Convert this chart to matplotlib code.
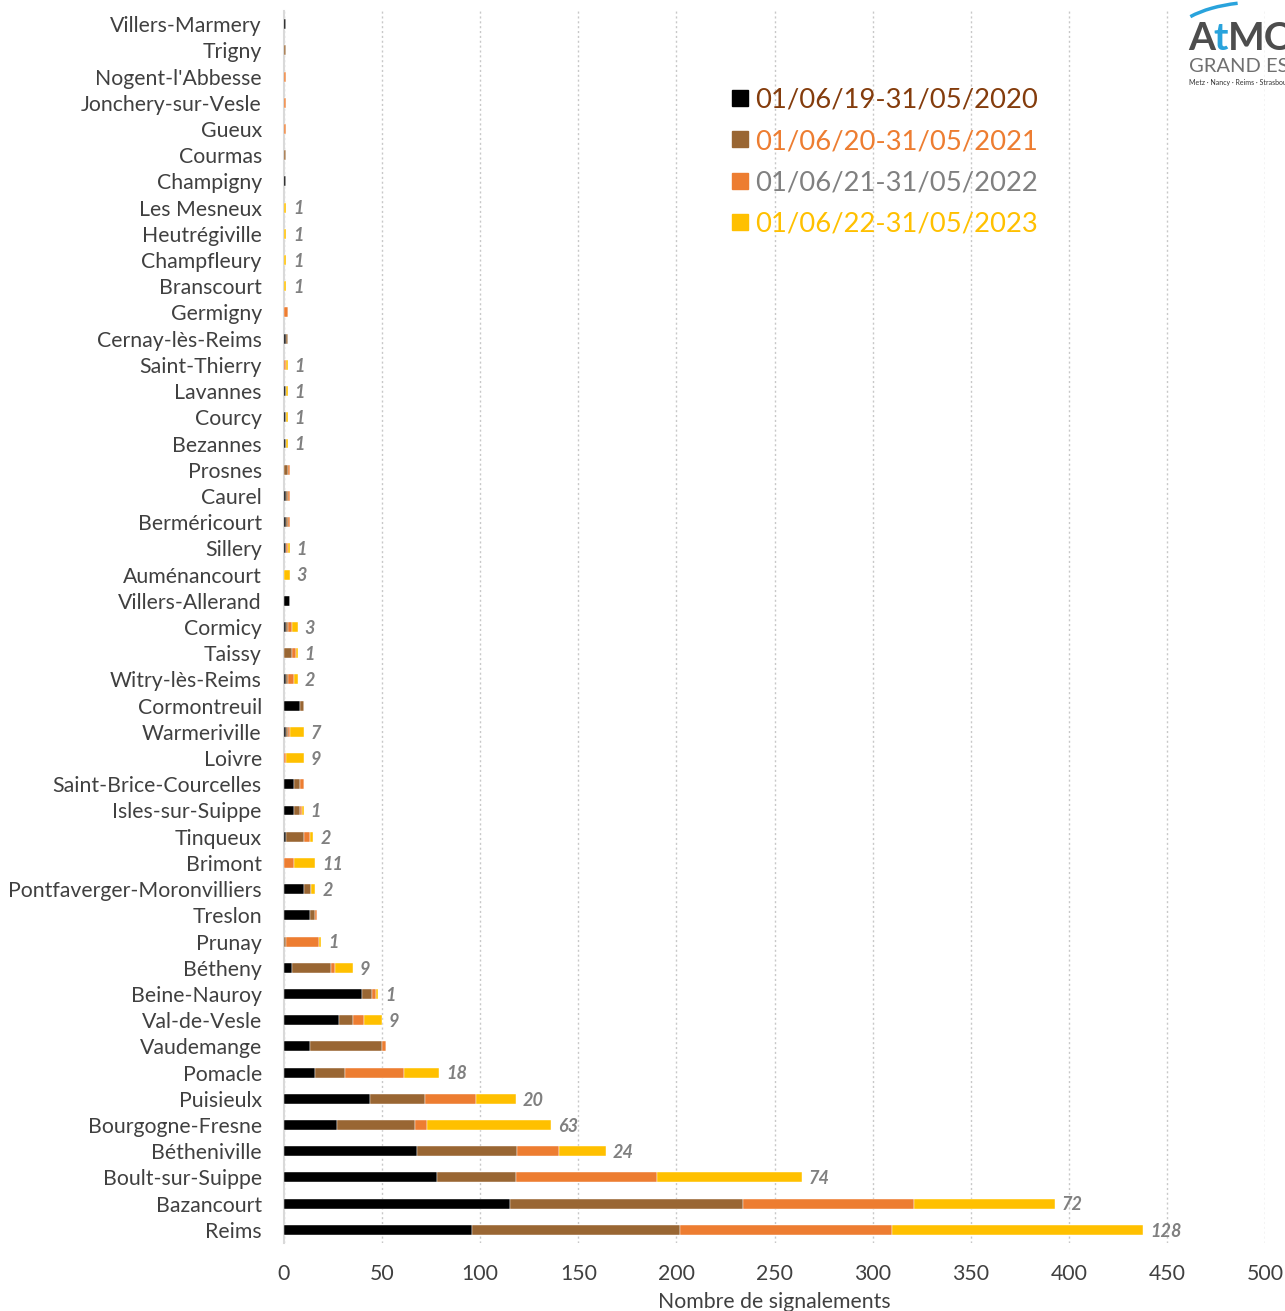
import matplotlib.pyplot as plt
import numpy as np
from matplotlib.lines import Line2D
from matplotlib.patches import Arc

plt.rcParams['font.family'] = ['Lato', 'DejaVu Sans']

# communes, top to bottom
communes = ["Villers-Marmery", "Trigny", "Nogent-l'Abbesse", "Jonchery-sur-Vesle", "Gueux",
            "Courmas", "Champigny", "Les Mesneux", "Heutrégiville", "Champfleury", "Branscourt",
            "Germigny", "Cernay-lès-Reims", "Saint-Thierry", "Lavannes", "Courcy", "Bezannes",
            "Prosnes", "Caurel", "Berméricourt", "Sillery", "Auménancourt", "Villers-Allerand",
            "Cormicy", "Taissy", "Witry-lès-Reims", "Cormontreuil", "Warmeriville", "Loivre",
            "Saint-Brice-Courcelles", "Isles-sur-Suippe", "Tinqueux", "Brimont",
            "Pontfaverger-Moronvilliers", "Treslon", "Prunay", "Bétheny", "Beine-Nauroy",
            "Val-de-Vesle", "Vaudemange", "Pomacle", "Puisieulx", "Bourgogne-Fresne",
            "Bétheniville", "Boult-sur-Suippe", "Bazancourt", "Reims"]

p2020 = [1, 0, 0, 0, 0, 0, 1, 0, 0, 0, 0, 0, 1, 0, 1, 1, 1, 0, 1, 1, 1, 0, 3, 1, 0, 1, 8, 1, 0,
         5, 5, 1, 0, 10, 13, 0, 4, 40, 28, 13, 16, 44, 27, 68, 78, 115, 96]
p2021 = [0, 1, 0, 0, 0, 1, 0, 0, 0, 0, 0, 0, 1, 0, 0, 0, 0, 2, 1, 1, 0, 0, 0, 1, 4, 1, 2, 1, 0,
         3, 3, 9, 0, 4, 3, 1, 20, 5, 7, 37, 15, 28, 40, 51, 40, 119, 106]
p2022 = [0, 0, 1, 1, 1, 0, 0, 0, 0, 0, 0, 2, 0, 1, 0, 0, 0, 1, 1, 1, 1, 0, 0, 2, 2, 3, 0, 1, 1,
         2, 1, 3, 5, 0, 1, 17, 2, 2, 6, 2, 30, 26, 6, 21, 72, 87, 108]
p2023 = [0, 0, 0, 0, 0, 0, 0, 1, 1, 1, 1, 0, 0, 1, 1, 1, 1, 0, 0, 0, 1, 3, 0, 3, 1, 2, 0, 7, 9,
         0, 1, 2, 11, 2, 0, 1, 9, 1, 9, 0, 18, 20, 63, 24, 74, 72, 128]

periodes = ["01/06/19-31/05/2020", "01/06/20-31/05/2021",
            "01/06/21-31/05/2022", "01/06/22-31/05/2023"]
couleurs = ["#000000", "#996633", "#ED7D31", "#FFC000"]
couleurs_texte = ["#843C0C", "#ED7D31", "#808080", "#FFC000"]

fig = plt.figure(figsize=(12.85, 13.11), dpi=100)
ax = fig.add_axes([284 / 1285, 1 - 1243 / 1311, 981 / 1285, 1232 / 1311])

y = np.arange(len(communes))
left = np.zeros(len(communes))
for vals, c in zip([p2020, p2021, p2022, p2023], couleurs):
    ax.barh(y, vals, left=left, height=0.38, color=c, edgecolor='white', linewidth=0.3, zorder=3)
    left = left + np.array(vals)

# labels = last period values
for yi, tot, v in zip(y, left, p2023):
    if v > 0:
        ax.text(tot + 3.5, yi + 0.05, str(v), va='center', ha='left', fontsize=13,
                fontstyle='italic', fontweight='bold', color='#808080')

ax.set_ylim(len(communes) - 0.5, -0.5)
ax.set_yticks(y)
ax.set_yticklabels(communes, fontsize=15.3, color='#404040')
ax.set_xlim(0, 500)
ax.set_xticks(np.arange(0, 501, 50))
ax.tick_params(axis='x', labelsize=15.3, colors='#404040', length=0, pad=15)
ax.tick_params(axis='y', length=0, pad=16)
ax.grid(axis='x', color='#c8c8c8', linestyle=(0, (1.5, 2)), linewidth=1, zorder=0)
for s in ['top', 'right', 'bottom']:
    ax.spines[s].set_visible(False)
ax.spines['left'].set_color('#d9d9d9')
ax.spines['left'].set_linewidth(1.5)
ax.set_xlabel("Nombre de signalements", fontsize=15.3, color='#404040', labelpad=6)

handles = [Line2D([], [], marker='s', linestyle='none', color=c, markersize=11) for c in couleurs]
ax.legend(handles, periodes, loc='upper left', bbox_to_anchor=(709 / 1285, 1 - 63 / 1311),
          bbox_transform=fig.transFigure, frameon=False, fontsize=19.7,
          labelcolor=couleurs_texte, handlelength=0.5, handletextpad=0.3, labelspacing=0.6)

# logo
lax = fig.add_axes([1170 / 1285, 1 - 95 / 1311, 140 / 1285, 95 / 1311])
lax.set_xlim(0, 140)
lax.set_ylim(95, 0)
lax.axis('off')
lax.add_patch(Arc((90, 42), 180, 80, theta1=200, theta2=240, color='#29a3dc', lw=2.5))
lax.text(18, 38, "A", fontsize=28, fontweight='bold', color='#4d4d4d', va='center')
lax.text(43, 38, "t", fontsize=28, fontweight='bold', color='#29a3dc', va='center')
lax.text(58, 38, "MO", fontsize=28, fontweight='bold', color='#4d4d4d', va='center')
lax.text(19, 67, "GRAND EST", fontsize=14.5, color='#707070', va='center')
lax.text(19, 83, "Metz · Nancy · Reims · Strasbourg", fontsize=5, color='#333333', va='center')

fig.savefig("out.png", dpi=100)
